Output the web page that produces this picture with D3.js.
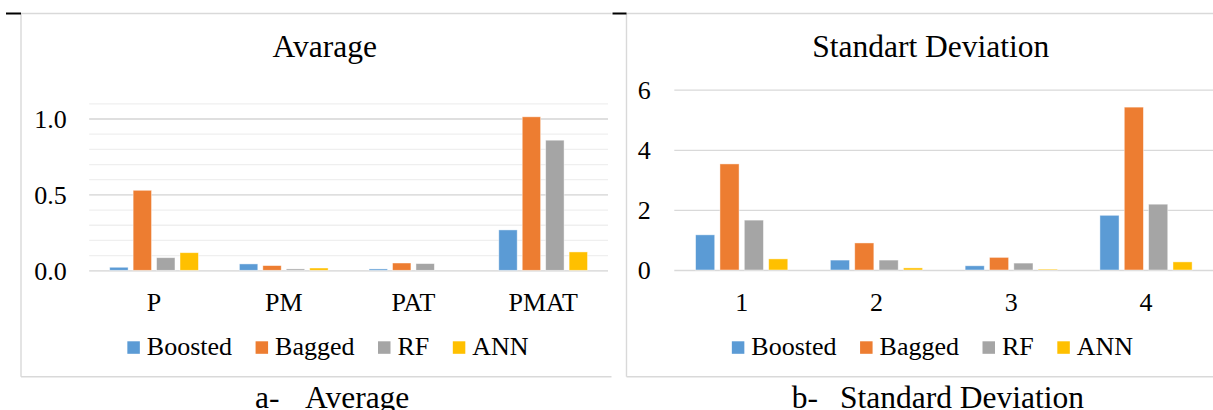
<!DOCTYPE html>
<html>
<head>
<meta charset="utf-8">
<script src="https://cdn.jsdelivr.net/npm/d3@7"></script>
<style>
  html, body { margin: 0; padding: 0; background: #fff; }
  svg { display: block; }
  svg text { font-family: "Liberation Serif", "Tinos", "Times New Roman", "DejaVu Serif", serif !important; }
</style>
</head>
<body>
<svg id="chart" width="1213" height="410"></svg>
<script>
// ---- data ----
const seriesNames = ["Boosted", "Bagged", "RF", "ANN"];
const seriesColors = ["#5B9BD5", "#ED7D31", "#A5A5A5", "#FFC000"];

const avgCategories = ["P", "PM", "PAT", "PMAT"];
const avgBoosted = [0.020, 0.042, 0.009, 0.266];
const avgBagged  = [0.527, 0.031, 0.048, 1.011];
const avgRF      = [0.083, 0.009, 0.044, 0.857];
const avgANN     = [0.116, 0.015, 0.000, 0.121];
const avgTicks   = [0.0, 0.5, 1.0];
const avgGrid    = [0.0, 0.1, 0.2, 0.3, 0.4, 0.5, 0.6, 0.7, 0.8, 0.9, 1.0, 1.1];

const sdCategories = ["1", "2", "3", "4"];
const sdBoosted = [1.17, 0.33, 0.14, 1.82];
const sdBagged  = [3.53, 0.90, 0.42, 5.42];
const sdRF      = [1.66, 0.33, 0.23, 2.19];
const sdANN     = [0.37, 0.07, 0.03, 0.27];
const sdTicks   = [0, 2, 4, 6];

const avgTitle = "Avarage";
const sdTitle = "Standart Deviation";

// ---- drawing ----
const svg = d3.select("#chart");

// frame lines
const frame = svg.append("g");
frame.append("line").attr("x1", 21).attr("x2", 611.5).attr("y1", 13.5).attr("y2", 13.5);
frame.append("line").attr("x1", 21).attr("x2", 21).attr("y1", 13.5).attr("y2", 376.7);
frame.append("line").attr("x1", 21).attr("x2", 611.5).attr("y1", 376.7).attr("y2", 376.7);
frame.append("line").attr("x1", 626.5).attr("x2", 1213).attr("y1", 13.5).attr("y2", 13.5);
frame.append("line").attr("x1", 626.5).attr("x2", 626.5).attr("y1", 13.5).attr("y2", 376.7);
frame.append("line").attr("x1", 626.5).attr("x2", 1213).attr("y1", 376.7).attr("y2", 376.7);
frame.selectAll("line").attr("stroke", "#d9d9d9").attr("stroke-width", 1.4);
svg.append("line").attr("x1", 6).attr("x2", 21).attr("y1", 13.5).attr("y2", 13.5)
  .attr("stroke", "#000").attr("stroke-width", 2);
svg.append("line").attr("x1", 612.5).attr("x2", 626.5).attr("y1", 13.5).attr("y2", 13.5)
  .attr("stroke", "#000").attr("stroke-width", 2);

function panel(cfg) {
  const g = svg.append("g");
  const x0 = d3.scaleBand().domain(cfg.categories).range([cfg.x0, cfg.x1]);
  const groupW = x0.bandwidth() * 0.684;
  const x1 = d3.scaleBand().domain(seriesNames).range([0, groupW]).paddingInner(0.215);
  const y = d3.scaleLinear().domain(cfg.domain).range([cfg.yBottom, cfg.yTop]);
  const color = d3.scaleOrdinal().domain(seriesNames).range(seriesColors);

  // minor gridlines
  if (cfg.minor) {
    g.append("g").attr("transform", `translate(${cfg.x0},0)`)
      .call(d3.axisLeft(y).tickValues(cfg.minor).tickSize(-(cfg.x1 - cfg.x0)).tickFormat(""))
      .call(a => a.select(".domain").remove())
      .call(a => a.selectAll("line").attr("stroke", "#efefef").attr("stroke-width", 1.3));
  }
  // major gridlines + labels
  g.append("g").attr("transform", `translate(${cfg.x0},0)`)
    .call(d3.axisLeft(y).tickValues(cfg.ticks).tickSize(-(cfg.x1 - cfg.x0))
      .tickPadding(cfg.tickPad).tickFormat(cfg.fmt))
    .call(a => a.select(".domain").remove())
    .call(a => a.selectAll("line").attr("stroke", "#d9d9d9").attr("stroke-width", 1.3))
    .call(a => a.selectAll("text").attr("font-size", 26).attr("fill", "#000").attr("dy", "0.34em"));

  // bars
  const rows = cfg.categories.map((c, i) => ({ cat: c, vals: cfg.series.map((s, j) => ({ name: seriesNames[j], v: s[i] })) }));
  const grp = g.selectAll(".grp").data(rows).join("g")
    .attr("transform", d => `translate(${x0(d.cat) + (x0.bandwidth() - groupW) / 2},0)`);
  grp.selectAll("rect").data(d => d.vals).join("rect")
    .attr("x", d => x1(d.name))
    .attr("width", x1.bandwidth())
    .attr("y", d => y(d.v))
    .attr("height", d => y(0) - y(d.v))
    .attr("fill", d => color(d.name))
    .attr("stroke", "#ffffff").attr("stroke-opacity", 0.55).attr("stroke-width", 0.8);

  // category axis
  g.append("g").attr("transform", `translate(0,${y(0)})`)
    .call(d3.axisBottom(x0).tickSize(0).tickPadding(22.5))
    .call(a => a.select(".domain").remove())
    .call(a => a.selectAll("text").attr("font-size", 26).attr("fill", "#000"));

  // title
  g.append("text").attr("x", cfg.titleX).attr("y", 56.5).attr("text-anchor", "middle")
    .attr("font-size", 31.5).attr("fill", "#000").text(cfg.title);

  // legend
  const leg = g.append("g");
  const items = leg.selectAll("g").data(seriesNames).join("g");
  items.append("rect").attr("width", 12.5).attr("height", 12.5).attr("y", 341.3)
    .attr("fill", d => color(d));
  items.append("text").attr("x", 19.5).attr("y", 355).attr("font-size", 26).attr("fill", "#000").text(d => d);
  let cx = 0;
  const offs = [];
  items.each(function () {
    offs.push(cx);
    const w = d3.select(this).select("text").node().getComputedTextLength();
    cx += 19.5 + w + 23.5;
  });
  const total = cx - 23.5;
  const start = cfg.legendCenter - total / 2;
  items.attr("transform", (d, i) => `translate(${start + offs[i]},0)`);

  // caption
  g.append("text").attr("x", cfg.capX1).attr("y", 407.5).attr("font-size", 31.5).attr("fill", "#000").text(cfg.capA);
  g.append("text").attr("x", cfg.capX2).attr("y", 407.5).attr("font-size", 31.5).attr("fill", "#000").text(cfg.capB);
}

panel({
  categories: avgCategories,
  series: [avgBoosted, avgBagged, avgRF, avgANN],
  x0: 89.2, x1: 608,
  domain: [0, 1.1], yBottom: 270.3, yTop: 103.3,
  ticks: avgTicks, minor: avgGrid, fmt: d3.format(".1f"), tickPad: 22.5,
  title: avgTitle, titleX: 324.7, legendCenter: 328,
  capA: "a-", capB: "Average", capX1: 255, capX2: 305
});

panel({
  categories: sdCategories,
  series: [sdBoosted, sdBagged, sdRF, sdANN],
  x0: 674.3, x1: 1213.4,
  domain: [0, 6], yBottom: 270, yTop: 89.7,
  ticks: sdTicks, minor: null, fmt: d3.format("d"), tickPad: 23.6,
  title: sdTitle, titleX: 930.7, legendCenter: 932.5,
  capA: "b-", capB: "Standard Deviation", capX1: 791.7, capX2: 840
});
</script>
</body>
</html>
